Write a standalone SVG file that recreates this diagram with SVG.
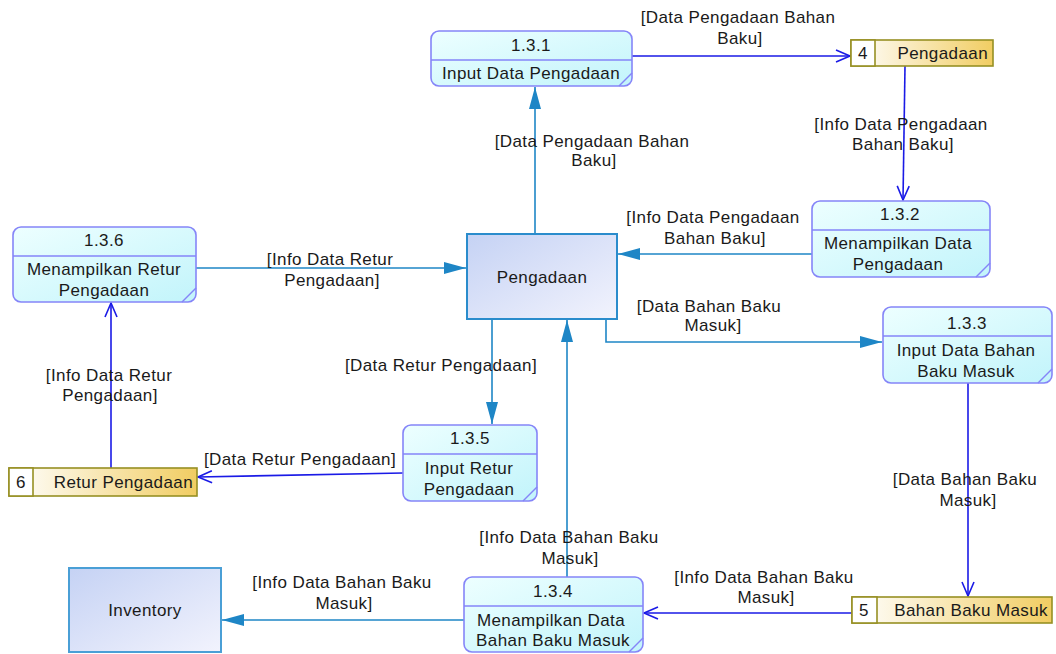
<svg xmlns="http://www.w3.org/2000/svg" width="1056" height="654" viewBox="0 0 1056 654">
  <defs>
    <linearGradient id="procFill" x1="0" y1="0" x2="1" y2="1">
      <stop offset="0" stop-color="#edffff"/>
      <stop offset="1" stop-color="#c2f4fb"/>
    </linearGradient>
    <linearGradient id="entFill" x1="0" y1="0" x2="1" y2="1">
      <stop offset="0" stop-color="#c5d2f4"/>
      <stop offset="1" stop-color="#f2f3fd"/>
    </linearGradient>
    <linearGradient id="storeFill" x1="0" y1="0" x2="1" y2="0">
      <stop offset="0" stop-color="#ffffff"/>
      <stop offset="1" stop-color="#f1cd62"/>
    </linearGradient>
    <marker id="openArrow" markerUnits="userSpaceOnUse" markerWidth="16" markerHeight="14" refX="14" refY="6" orient="auto" overflow="visible">
      <path d="M0,0 L14,6 L0,12" fill="none" stroke="#1a1ae6" stroke-width="1.6"/>
    </marker>
    <marker id="solidArrow" markerUnits="userSpaceOnUse" markerWidth="24" markerHeight="14" refX="22" refY="7" orient="auto" overflow="visible">
      <path d="M0,1 L22,7 L0,13 Z" fill="#1e86c6"/>
    </marker>
  </defs>
  <style>
    text { font-family: "Liberation Sans", Arial, sans-serif; font-size: 17px; fill: #1a1a1a; letter-spacing: 0.4px; }
    .mid { text-anchor: middle; }
    .end { text-anchor: end; }
    .proc { fill: url(#procFill); stroke: #8585f8; stroke-width: 1.6; }
    .procLine { stroke: #8585f8; stroke-width: 1.4; fill: none; }
    .ent { fill: url(#entFill); stroke: #2a8ccc; stroke-width: 2; }
    .store { fill: url(#storeFill); stroke: #979024; stroke-width: 1.6; }
    .storeNum { fill: #ffffff; stroke: #979024; stroke-width: 1.6; }
    .flowStore { stroke: #1a1ae6; stroke-width: 1.6; fill: none; marker-end: url(#openArrow); }
    .flowEnt { stroke: #1e86c6; stroke-width: 1.6; fill: none; marker-end: url(#solidArrow); }
  </style>

  <!-- connectors -->
  <g id="connectors">
    <line class="flowStore" x1="632" y1="56" x2="850" y2="56"/>
    <line class="flowStore" x1="905" y1="66" x2="903" y2="200"/>
    <line class="flowEnt" x1="535" y1="234" x2="535" y2="87"/>
    <line class="flowEnt" x1="812" y1="254" x2="618" y2="254"/>
    <line class="flowEnt" x1="196" y1="268" x2="466" y2="268"/>
    <line class="flowStore" x1="111" y1="468" x2="111" y2="303"/>
    <line class="flowEnt" x1="492" y1="319" x2="492" y2="424"/>
    <line class="flowStore" x1="403" y1="473" x2="198" y2="477"/>
    <polyline class="flowEnt" points="606,319 606,342 882,342"/>
    <line class="flowStore" x1="968" y1="383" x2="968" y2="596"/>
    <line class="flowStore" x1="852" y1="613" x2="644" y2="613"/>
    <line class="flowEnt" x1="567" y1="577" x2="567" y2="320"/>
    <line class="flowEnt" x1="464" y1="620" x2="222" y2="620"/>

    <text class="mid" x="738" y="23">[Data Pengadaan Bahan</text>
    <text class="mid" x="740" y="44">Baku]</text>
    <text class="mid" x="901" y="130">[Info Data Pengadaan</text>
    <text class="mid" x="903" y="150">Bahan Baku]</text>
    <text class="mid" x="592" y="147">[Data Pengadaan Bahan</text>
    <text class="mid" x="594" y="166">Baku]</text>
    <text class="mid" x="713" y="223">[Info Data Pengadaan</text>
    <text class="mid" x="715" y="244">Bahan Baku]</text>
    <text class="mid" x="330" y="265">[Info Data Retur</text>
    <text class="mid" x="332" y="286">Pengadaan]</text>
    <text class="mid" x="109" y="381">[Info Data Retur</text>
    <text class="mid" x="110" y="401">Pengadaan]</text>
    <text class="mid" x="441" y="371">[Data Retur Pengadaan]</text>
    <text class="mid" x="300" y="465">[Data Retur Pengadaan]</text>
    <text class="mid" x="709" y="312">[Data Bahan Baku</text>
    <text class="mid" x="713" y="331">Masuk]</text>
    <text class="mid" x="965" y="485">[Data Bahan Baku</text>
    <text class="mid" x="968" y="506">Masuk]</text>
    <text class="mid" x="764" y="583">[Info Data Bahan Baku</text>
    <text class="mid" x="766" y="603">Masuk]</text>
    <text class="mid" x="569" y="543">[Info Data Bahan Baku</text>
    <text class="mid" x="570" y="564">Masuk]</text>
    <text class="mid" x="342" y="588">[Info Data Bahan Baku</text>
    <text class="mid" x="344" y="609">Masuk]</text>
  </g>

  <!-- external entities -->
  <g id="ent-pengadaan">
    <rect class="ent" x="467" y="234" width="150" height="85"/>
    <text class="mid" x="542" y="283">Pengadaan</text>
  </g>
  <g id="ent-inventory">
    <rect class="ent" x="69" y="568" width="152" height="84" style="stroke:#4a9fd6"/>
    <text class="mid" x="145" y="616">Inventory</text>
  </g>

  <!-- data stores -->
  <g id="store-4">
    <rect class="store" x="851" y="40" width="142" height="26"/>
    <rect class="storeNum" x="851" y="40" width="24" height="26"/>
    <text class="mid" x="863" y="59">4</text>
    <text class="end" x="988" y="59">Pengadaan</text>
  </g>
  <g id="store-6">
    <rect class="store" x="9" y="468" width="188" height="28"/>
    <rect class="storeNum" x="9" y="468" width="24" height="28"/>
    <text class="mid" x="21" y="488">6</text>
    <text class="end" x="193" y="488">Retur Pengadaan</text>
  </g>
  <g id="store-5">
    <rect class="store" x="852" y="597" width="200" height="26"/>
    <rect class="storeNum" x="852" y="597" width="25" height="26"/>
    <text class="mid" x="864" y="616">5</text>
    <text class="end" x="1048" y="616">Bahan Baku Masuk</text>
  </g>

  <!-- processes -->
  <g id="proc-1-3-1">
    <rect class="proc" x="431" y="31" width="201" height="55" rx="8"/>
    <line class="procLine" x1="431" y1="60" x2="632" y2="60"/>
    <line class="procLine" x1="619" y1="86" x2="632" y2="73"/>
    <text class="mid" x="531" y="51">1.3.1</text>
    <text class="mid" x="531" y="79">Input Data Pengadaan</text>
  </g>
  <g id="proc-1-3-2">
    <rect class="proc" x="812" y="201" width="178" height="76" rx="8"/>
    <line class="procLine" x1="812" y1="230" x2="990" y2="230"/>
    <line class="procLine" x1="976" y1="277" x2="990" y2="263"/>
    <text class="mid" x="900" y="220">1.3.2</text>
    <text class="mid" x="898" y="249">Menampilkan Data</text>
    <text class="mid" x="898" y="270">Pengadaan</text>
  </g>
  <g id="proc-1-3-6">
    <rect class="proc" x="13" y="227" width="183" height="75" rx="8"/>
    <line class="procLine" x1="13" y1="256" x2="196" y2="256"/>
    <line class="procLine" x1="182" y1="302" x2="196" y2="288"/>
    <text class="mid" x="104" y="246">1.3.6</text>
    <text class="mid" x="104" y="275">Menampilkan Retur</text>
    <text class="mid" x="104" y="296">Pengadaan</text>
  </g>
  <g id="proc-1-3-3">
    <rect class="proc" x="883" y="307" width="169" height="76" rx="8"/>
    <line class="procLine" x1="883" y1="336" x2="1052" y2="336"/>
    <line class="procLine" x1="1038" y1="383" x2="1052" y2="369"/>
    <text class="mid" x="967" y="329">1.3.3</text>
    <text class="mid" x="966" y="356">Input Data Bahan</text>
    <text class="mid" x="966" y="377">Baku Masuk</text>
  </g>
  <g id="proc-1-3-5">
    <rect class="proc" x="403" y="425" width="134" height="76" rx="8"/>
    <line class="procLine" x1="403" y1="454" x2="537" y2="454"/>
    <line class="procLine" x1="523" y1="501" x2="537" y2="487"/>
    <text class="mid" x="470" y="444">1.3.5</text>
    <text class="mid" x="469" y="474">Input Retur</text>
    <text class="mid" x="469" y="495">Pengadaan</text>
  </g>
  <g id="proc-1-3-4">
    <rect class="proc" x="464" y="577" width="179" height="75" rx="8"/>
    <line class="procLine" x1="464" y1="606" x2="643" y2="606"/>
    <line class="procLine" x1="629" y1="652" x2="643" y2="638"/>
    <text class="mid" x="553" y="597">1.3.4</text>
    <text class="mid" x="551" y="626">Menampilkan Data</text>
    <text class="mid" x="553" y="646">Bahan Baku Masuk</text>
  </g>
</svg>
